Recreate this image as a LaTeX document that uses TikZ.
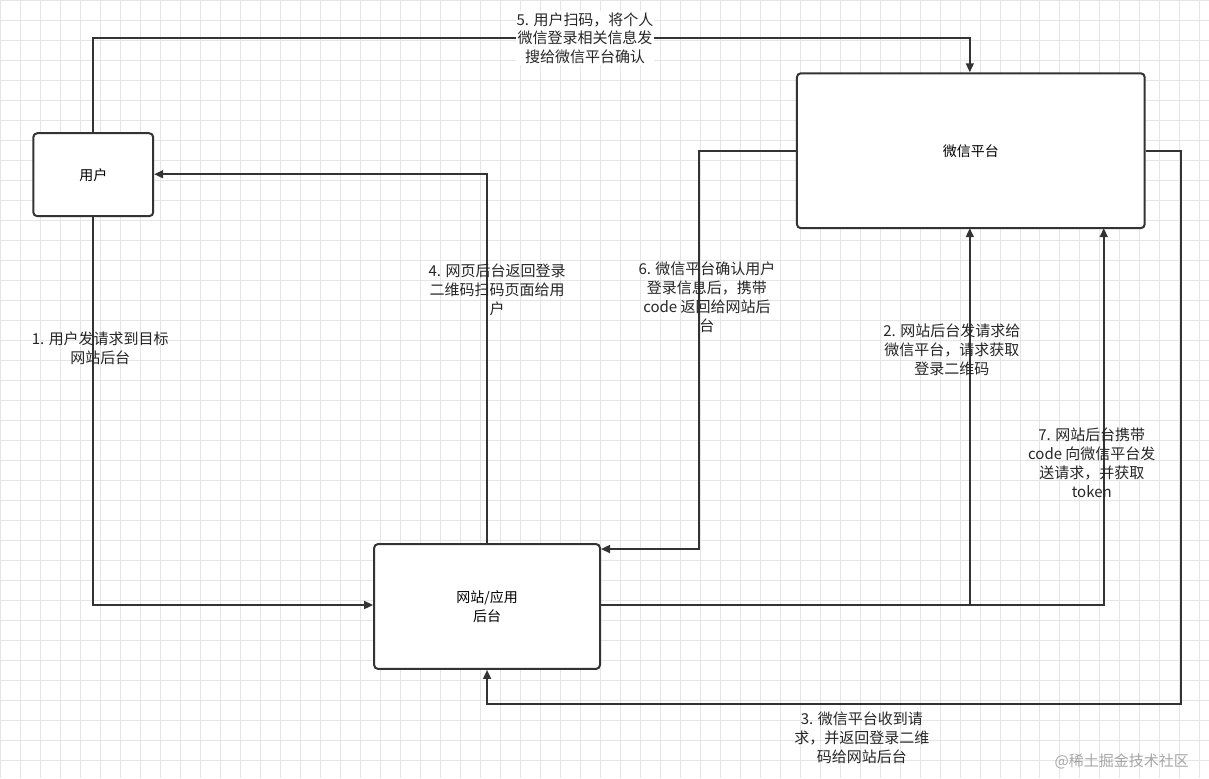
\documentclass[tikz,border=0pt]{standalone}
\usepackage{fontspec}
\newfontfamily\cjk{Noto Sans CJK SC}
\usetikzlibrary{arrows.meta}
\begin{document}
\begin{tikzpicture}[x=1pt,y=-1pt,
  box/.style={draw=black!80,line width=2pt,rounded corners=4pt,fill=white,font=\cjk\fontsize{14}{19}\selectfont,align=center},
  conn/.style={draw=black!80,line width=1.6pt,-{Triangle[length=9pt,width=8pt]}},
  lab/.style={font=\cjk\fontsize{15}{19}\selectfont,align=center,inner sep=1pt,text=black!85}]
\fill[white] (0,0) rectangle (1209,778);
\foreach \i in {0,20,...,1200} \draw[black!10,line width=0.6pt] (\i,0) -- (\i,778);
\foreach \j in {0,20,...,770} \draw[black!10,line width=0.6pt] (0,\j) -- (1209,\j);
\useasboundingbox (0,0) rectangle (1209,778);
\node[box,minimum width=120pt,minimum height=83pt] (u) at (93,174.5) {用户};
\node[box,minimum width=348pt,minimum height=155pt] (w) at (971,150.5) {微信平台};
\node[box,minimum width=226pt,minimum height=125pt] (s) at (487,606.5) {网站/应用\\后台};
\coordinate (a1) at (93,605);
\draw[conn] (u.south) -- (a1) -- (s.west |- a1);
\draw[conn] (s.north) -- (487,174) -- (u.east |- 0,174);
\draw[conn] (u.north) -- (93,38) -- (970,38) -- (970,72);
\draw[conn] (w.west |- 0,151) -- (699,151) -- (699,549) -- (s.east |- 0,549);
\draw[conn] (s.east |- 0,605) -- (970,605) -- (970,228);
\draw[conn] (970,605) -- (1104,605) -- (1104,228);
\draw[conn] (w.east |- 0,151) -- (1181,151) -- (1181,704) -- (487,704) -- (s.south);
\node[lab] at (100,348) {1. 用户发请求到目标\\网站后台};
\node[lab] at (497,290) {4. 网页后台返回登录\\二维码扫码页面给用\\户};
\node[lab,fill=white] at (585,38) {5. 用户扫码，将个人\\微信登录相关信息发\\搜给微信平台确认};
\node[lab] at (707,297) {6. 微信平台确认用户\\登录信息后，携带\\code 返回给网站后\\台};
\node[lab] at (952,350) {2. 网站后台发请求给\\微信平台，请求获取\\登录二维码};
\node[lab] at (1092,463) {7. 网站后台携带\\code 向微信平台发\\送请求，并获取\\token};
\node[lab] at (862,738) {3. 微信平台收到请\\求，并返回登录二维\\码给网站后台};
\node[font=\cjk\fontsize{15}{18}\selectfont,text=black!35] at (1122,762) {@稀土掘金技术社区};
\end{tikzpicture}
\end{document}
